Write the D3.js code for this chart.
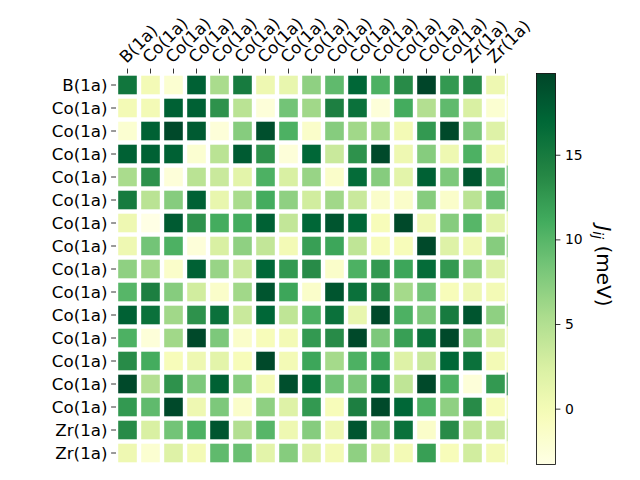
<!DOCTYPE html>
<html>
<head>
<meta charset="utf-8">
<script src="https://cdn.jsdelivr.net/npm/d3@7"></script>
<style>
  html, body { margin: 0; padding: 0; background: #fff; }
  svg { display: block; }
  text { font-family: "DejaVu Sans", sans-serif; fill: #000; }
</style>
</head>
<body>
<svg id="chart" width="640" height="480"></svg>
<script>
// ---------- data ----------
const rowLabels = ["B(1a)", "Co(1a)", "Co(1a)", "Co(1a)", "Co(1a)", "Co(1a)", "Co(1a)", "Co(1a)", "Co(1a)",
                   "Co(1a)", "Co(1a)", "Co(1a)", "Co(1a)", "Co(1a)", "Co(1a)", "Zr(1a)", "Zr(1a)"];
const colLabels = rowLabels.slice();

// Jij matrix (meV), rows top->bottom, columns left->right
const jij = [
  [15.5, 0, -2, 17.5, 5.5, 15, 0.5, 1, 7, 9.5, 17, 10.5, 13.5, 19.8, 12.5, 13.5, 0.5],
  [0, 0, 17.5, 17.5, 13, 4.5, -2.5, 8.5, 6, 14.5, 16, -2.5, 11, 5, 9.5, 2.5, -2],
  [-2, 17.5, 19.5, 18, -2.5, 7.5, 19, 10.5, -1.5, 7.5, 6, 5.8, 0, 12.5, 19.5, 8, 2],
  [17.5, 17.5, 17.5, -2, 4.5, 18, 13, -2.5, 17, 3.5, 13, 19.5, 0.5, 7.5, 0.5, 10.5, 0.2],
  [5.5, 13, -2.5, 4.5, 3.5, 1.5, 10.5, 2.5, 6.5, -1.5, 16.5, 7.5, 1.5, 17.5, 8, 18.5, 9],
  [15, 4.5, 7.5, 17.5, 1, 5.5, 11, 7, 3, 6, 3.5, -1.5, -1.5, 7.5, -1.5, 4.5, 9],
  [0.5, -3.3, 18, 13, 11, 11, 17.5, 4, 17, 18.5, 17, -0.5, 19.5, 0.3, 7.5, 10, 1.5],
  [0.5, 8.5, 10.5, -2.5, 2.5, 7, 4, 0, 12, 11.5, 4.2, -0.5, -0.5, 19.5, 2, 0.3, 7.5],
  [7, 6, -1.5, 17.5, 6.5, 3.5, 17, 12.5, 13.5, -1.5, 10.5, 12.5, 11.5, 16.5, 12.5, 7.5, 2],
  [10, 14.5, 7.5, 3, -1.5, 6, 18.5, 11.5, -1.5, 18.5, 16, 13.5, 5.8, 8.5, -0.5, 0.5, 0],
  [17.5, 16, 6, 13, 16, 3.5, 17, 4.2, 10.5, 16, 1, 19.5, 10.5, 8, 15, 18.5, 7],
  [10.5, -2.5, 6, 19.5, 8, -1.5, -0.5, 0, 12.5, 13.5, 19.5, 8, 12, 16, 19.5, 7.5, 2],
  [13.5, 11, -0.5, 0.5, 1.5, -0.5, 19.5, 0, 11.5, 5.8, 10.5, 11.5, 2, 3.5, 17, 16, 0],
  [19.5, 5, 13, 8, 17.5, 7.5, 0, 19, 16.5, 8.5, 8, 16, 4.2, 19.5, 10.5, -2.5, 12.5],
  [12.5, 9.5, 19.5, 0.5, 8, -1.5, 7, 2, 12.5, -0.5, 14.5, 19.5, 17, 10.5, 7, 13.5, -0.5],
  [13.5, 2.5, 8.5, 10.5, 18.5, 5, 10, 0.5, 7.5, 0.5, 18.5, 7.5, 16, -1.5, 13.5, 4.2, 3.5],
  [0.5, -2, 2, 0, 9.5, 9, 1.5, 7.5, 2, 0, 7, 2, 0, 12, -0.5, 3, 0]
];
// values of the (clipped) column just beyond the right edge
const edgeColumn = [0.5, -1, 1, 0.5, 9, 8, 0.5, 7, 1.5, 0.5, 6, 0.5, 0, 14, 0.5, 4, 0];

const cbarTicks = [0, 5, 10, 15];
const cbarLabel = "(meV)";

// ---------- layout ----------
const svg = d3.select("#chart");
const hm = { x0: 116, y0: 73.5, size: 391 };
const gap = 2.2;

const idx = d3.range(rowLabels.length);
const xs = d3.scaleBand().domain(idx).range([hm.x0, hm.x0 + hm.size]).padding(0);
const ys = d3.scaleBand().domain(idx).range([hm.y0, hm.y0 + hm.size]).padding(0);

const allVals = jij.flat().concat(edgeColumn);
const [vmin, vmax] = d3.extent(allVals);
const ylgn = d3.schemeYlGn[9];
const color = d3.scaleLinear()
  .domain(d3.range(9).map(i => vmin + (vmax - vmin) * i / 8))
  .range(ylgn)
  .interpolate(d3.interpolateRgb)
  .clamp(true);

// cells
const cells = [];
jij.forEach((row, r) => row.forEach((v, c) => cells.push({ r, c, v })));
svg.append("g").selectAll("rect").data(cells).join("rect")
  .attr("x", d => xs(d.c) + gap)
  .attr("y", d => ys(d.r) + gap)
  .attr("width", xs.bandwidth() - 2 * gap)
  .attr("height", ys.bandwidth() - 2 * gap)
  .attr("fill", d => color(d.v));

// clipped edge column sliver
svg.append("g").selectAll("rect").data(edgeColumn).join("rect")
  .attr("x", hm.x0 + hm.size - 0.3)
  .attr("y", (d, i) => ys(i))
  .attr("width", 1)
  .attr("height", ys.bandwidth())
  .attr("fill", d => color(d));

// ---------- axes ----------
const fs = 16.7;
const tickLen = 4.9;

// top ticks + labels
const gTop = svg.append("g");
gTop.selectAll("line").data(idx).join("line")
  .attr("x1", d => xs(d) + xs.bandwidth() / 2).attr("x2", d => xs(d) + xs.bandwidth() / 2)
  .attr("y1", hm.y0 - tickLen).attr("y2", hm.y0)
  .attr("stroke", "#000").attr("stroke-width", 0.8);
gTop.selectAll("text").data(idx).join("text")
  .attr("transform", d => `translate(${xs(d) + xs.bandwidth() / 2 - 1},64) rotate(-45)`)
  .attr("text-anchor", "start")
  .style("font-size", fs + "px")
  .text(d => colLabels[d]);

// left ticks + labels
const gLeft = svg.append("g");
gLeft.selectAll("line").data(idx).join("line")
  .attr("y1", d => ys(d) + ys.bandwidth() / 2).attr("y2", d => ys(d) + ys.bandwidth() / 2)
  .attr("x1", hm.x0 - tickLen).attr("x2", hm.x0)
  .attr("stroke", "#000").attr("stroke-width", 0.8);
gLeft.selectAll("text").data(idx).join("text")
  .attr("x", 107.5)
  .attr("y", d => ys(d) + ys.bandwidth() / 2)
  .attr("text-anchor", "end")
  .attr("dominant-baseline", "central")
  .style("font-size", fs + "px")
  .text(d => rowLabels[d]);

// ---------- colorbar ----------
const cb = { x: 536.5, w: 19, y0: 73.5, y1: 464.5 };
const cy = d3.scaleLinear().domain([vmin, vmax]).range([cb.y1, cb.y0]);
const defs = svg.append("defs");
const grad = defs.append("linearGradient").attr("id", "cbgrad")
  .attr("x1", 0).attr("y1", 1).attr("x2", 0).attr("y2", 0);
grad.selectAll("stop").data(d3.range(0, 1.0001, 0.02)).join("stop")
  .attr("offset", d => d)
  .attr("stop-color", d => color(vmin + d * (vmax - vmin)));
svg.append("rect")
  .attr("x", cb.x).attr("y", cb.y0).attr("width", cb.w).attr("height", cb.y1 - cb.y0)
  .attr("fill", "url(#cbgrad)")
  .attr("stroke", "#000").attr("stroke-width", 0.8);

const cbAxis = d3.axisRight(cy).tickValues(cbarTicks).tickSize(tickLen).tickPadding(4.5)
  .tickFormat(d3.format("d"));
const cbg = svg.append("g").attr("transform", `translate(${cb.x + cb.w},0)`).call(cbAxis);
cbg.select(".domain").remove();
cbg.selectAll("line").attr("stroke", "#000").attr("stroke-width", 0.8);
cbg.selectAll("text").style("font-size", "13.9px").style("font-family", "DejaVu Sans, sans-serif").attr("fill", "#000");

// colorbar label  J_ij (meV), rotated to read top-to-bottom
const lab = svg.append("text")
  .attr("transform", `translate(597,${(cb.y0 + cb.y1) / 2 - 3}) rotate(90)`)
  .attr("text-anchor", "middle")
  .style("font-size", "20px");
lab.append("tspan").style("font-style", "italic").text("J");
lab.append("tspan").style("font-style", "italic").style("font-size", "14px").attr("dy", 4).text("ij");
lab.append("tspan").attr("dy", -4).text("\u00a0" + cbarLabel);
</script>
</body>
</html>
